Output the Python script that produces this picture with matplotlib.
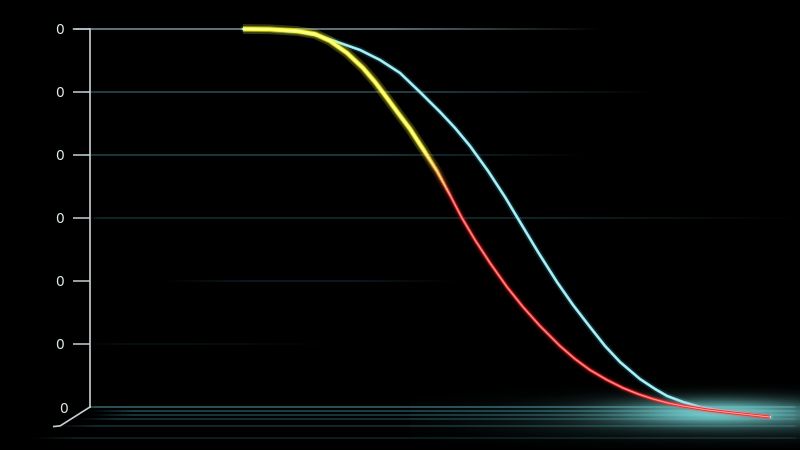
import numpy as np
import matplotlib
matplotlib.use("Agg")
import matplotlib.pyplot as plt
from matplotlib.collections import LineCollection
from matplotlib.patches import Rectangle
from matplotlib.transforms import ScaledTranslation

# ------------------------------------------------------------
# data
# ------------------------------------------------------------
yticks = [0, 1, 2, 3, 4, 5, 6]
ytick_labels = ["0", "0", "0", "0", "0", "0", "0"]

cyan_x = [21.55, 25.35, 29.58, 32.39, 35.21, 38.03, 40.85, 43.66, 46.48, 49.30,
          51.41, 53.52, 56.06, 58.45, 60.56, 63.10, 65.77, 68.03, 70.42, 72.54,
          74.65, 77.46, 79.58, 81.27, 83.52, 85.92, 88.31, 90.56, 92.96, 95.77]
cyan_y = [6.000, 5.992, 5.952, 5.889, 5.778, 5.667, 5.508, 5.302, 4.998, 4.683,
          4.429, 4.143, 3.746, 3.333, 2.937, 2.460, 1.984, 1.619, 1.270, 0.968,
          0.714, 0.444, 0.286, 0.175, 0.079, 0.000, -0.048, -0.079, -0.119, -0.159]

warm_x = [21.55, 25.35, 29.15, 31.69, 33.80, 36.20, 38.45, 40.14, 41.83, 43.38,
          45.07, 46.90, 48.87, 50.70, 52.39, 54.23, 56.34, 58.73, 60.99, 63.38,
          66.20, 68.31, 70.42, 72.82, 75.07, 77.18, 79.30, 81.41, 83.52, 87.04,
          90.56, 95.77]
warm_y = [6.000, 5.995, 5.968, 5.921, 5.810, 5.619, 5.381, 5.159, 4.905, 4.667,
          4.413, 4.095, 3.746, 3.365, 3.000, 2.651, 2.286, 1.905, 1.587, 1.286,
          0.968, 0.762, 0.587, 0.429, 0.302, 0.206, 0.127, 0.063, 0.016, -0.048,
          -0.095, -0.159]

# floor lines below the baseline (data y)
floor_y = [-0.063, -0.127, -0.19, -0.30, -0.49]

# ------------------------------------------------------------
# figure
# ------------------------------------------------------------
fig = plt.figure(figsize=(8, 4.5), dpi=100, facecolor="black")
ax = fig.add_axes([0.1125, 0.0956, 0.8875, 0.84])
ax.set_facecolor("black")

for s in ["top", "right", "bottom"]:
    ax.spines[s].set_visible(False)
ax.spines["left"].set_color("#c4d0d0")
ax.spines["left"].set_linewidth(1.2)
ax.set_xticks([])
ax.set_yticks(yticks)
ax.set_yticklabels(ytick_labels)
ax.tick_params(axis="y", length=12.5, width=1.1, color="#c4d0d0",
               labelcolor="#dfeaea", labelsize=10, pad=6)
ax.yaxis.get_major_ticks()[0].tick1line.set_visible(False)
lab0 = ax.get_yticklabels()[0]
lab0.set_transform(lab0.get_transform() + ScaledTranslation(0.04, -0.01, fig.dpi_scale_trans))


# fading grid lines
def fade_line(y, x0, x1, color, a0, fin=4.0, fout=25.0, lw=1.2):
    xs = np.linspace(x0, x1, 200)
    segs = [[(xs[i], y), (xs[i + 1], y)] for i in range(len(xs) - 1)]
    xm = 0.5 * (xs[:-1] + xs[1:])
    a = a0 * np.clip((xm - x0) / fin, 0, 1) * np.clip((x1 - xm) / fout, 0, 1)
    rgba = np.zeros((len(xm), 4))
    rgba[:, :3] = matplotlib.colors.to_rgb(color)
    rgba[:, 3] = a
    lc = LineCollection(segs, colors=rgba, linewidths=lw, clip_on=False, zorder=1)
    ax.add_collection(lc)


fade_line(6, -2.5, 72, "#7a979b", 0.9, fin=0.5, fout=30)
fade_line(5, -1, 80, "#2c5056", 0.9, fin=1, fout=35)
fade_line(4, -1, 70, "#254a50", 0.85, fin=1, fout=30)
fade_line(3, 0, 100, "#1a363b", 0.8, fin=1, fout=40)
fade_line(2, 10, 52, "#16303a", 0.6, fin=12, fout=15)
fade_line(1, 0, 35, "#122226", 0.5, fin=5, fout=20)

# floor
fade_line(0, 0, 100, "#2f6066", 1.0, fin=0.3, fout=1)
floor_cols = ["#1f4a50", "#1a4046", "#173a40", "#143236", "#0e2226"]
floor_x0 = [0, 0, -2, -5, -8]
for fy, fc, fx in zip(floor_y, floor_cols, floor_x0):
    fade_line(fy, fx, 100, fc, 0.9, fin=6, fout=1, lw=1.3)

# teal haze at the floor near the curve ends
gx = np.linspace(45, 100, 300)
gy = np.linspace(-0.65, 0.45, 120)
GX, GY = np.meshgrid(gx, gy)
haze = np.exp(-((GX - 88) / 13.0) ** 2 - ((GY + 0.08) / 0.2) ** 2) * 0.75
haze += np.exp(-((GX - 92) / 30.0) ** 2 - ((GY + 0.18) / 0.28) ** 2) * 0.3
haze = np.clip(haze, 0, 1)
img = np.zeros(haze.shape + (4,))
img[..., 0] = 0.45
img[..., 1] = 0.80
img[..., 2] = 0.80
img[..., 3] = haze
ax.imshow(img, extent=[45, 100, -0.65, 0.45], origin="lower", aspect="auto",
          clip_on=False, zorder=2, interpolation="bilinear")
ax.set_xlim(0, 100)
ax.set_ylim(0, 6)

# diagonal corner leg
ax.plot([0, -4.2, -5.1], [0, -0.30, -0.31], color="#c4d0d0", lw=1.2,
        clip_on=False, zorder=3)

# cyan curve with glow
ax.plot(cyan_x, cyan_y, color="#5fd6e6", lw=4.5, alpha=0.15, clip_on=False,
        solid_capstyle="round", solid_joinstyle="round", zorder=4)
ax.plot(cyan_x, cyan_y, color="#8ae6f0", lw=2.0, clip_on=False,
        solid_capstyle="round", solid_joinstyle="round", zorder=5)
ax.plot(cyan_x, cyan_y, color="#d8fbff", lw=0.6, alpha=0.7, clip_on=False,
        solid_joinstyle="round", zorder=5)

# warm curve: yellow at the top, red below, blended in thin bands
yel = np.array(matplotlib.colors.to_rgb("#ffff30"))
red = np.array(matplotlib.colors.to_rgb("#ff2a2a"))
bands = np.linspace(3.3, 4.1, 17)
edges = [-1.0] + list(bands) + [7.0]
for i in range(len(edges) - 1):
    lo, hi = edges[i], edges[i + 1]
    if i == 0:
        t = 0.0
    elif i == len(edges) - 2:
        t = 1.0
    else:
        t = np.clip((0.5 * (lo + hi) - 3.3) / 0.8, 0, 1)
    col = red * (1 - t) + yel * t
    core_in = np.clip(col + 0.55, 0, 1)
    layers = [(7, 0.06 + 0.16 * t, col), (4, 0.2 + 0.25 * t, col),
              (2.1 + 0.5 * t, 1.0, col), (0.7 + 0.3 * t, 0.9, core_in)]
    for lw, al, c in layers:
        ln, = ax.plot(warm_x, warm_y, color=c, lw=lw, alpha=al,
                      solid_capstyle="butt", solid_joinstyle="round", zorder=6)
        ln.set_clip_path(Rectangle((-10, lo), 120, hi - lo, transform=ax.transData))

fig.savefig("out.png", dpi=100, facecolor="black")
